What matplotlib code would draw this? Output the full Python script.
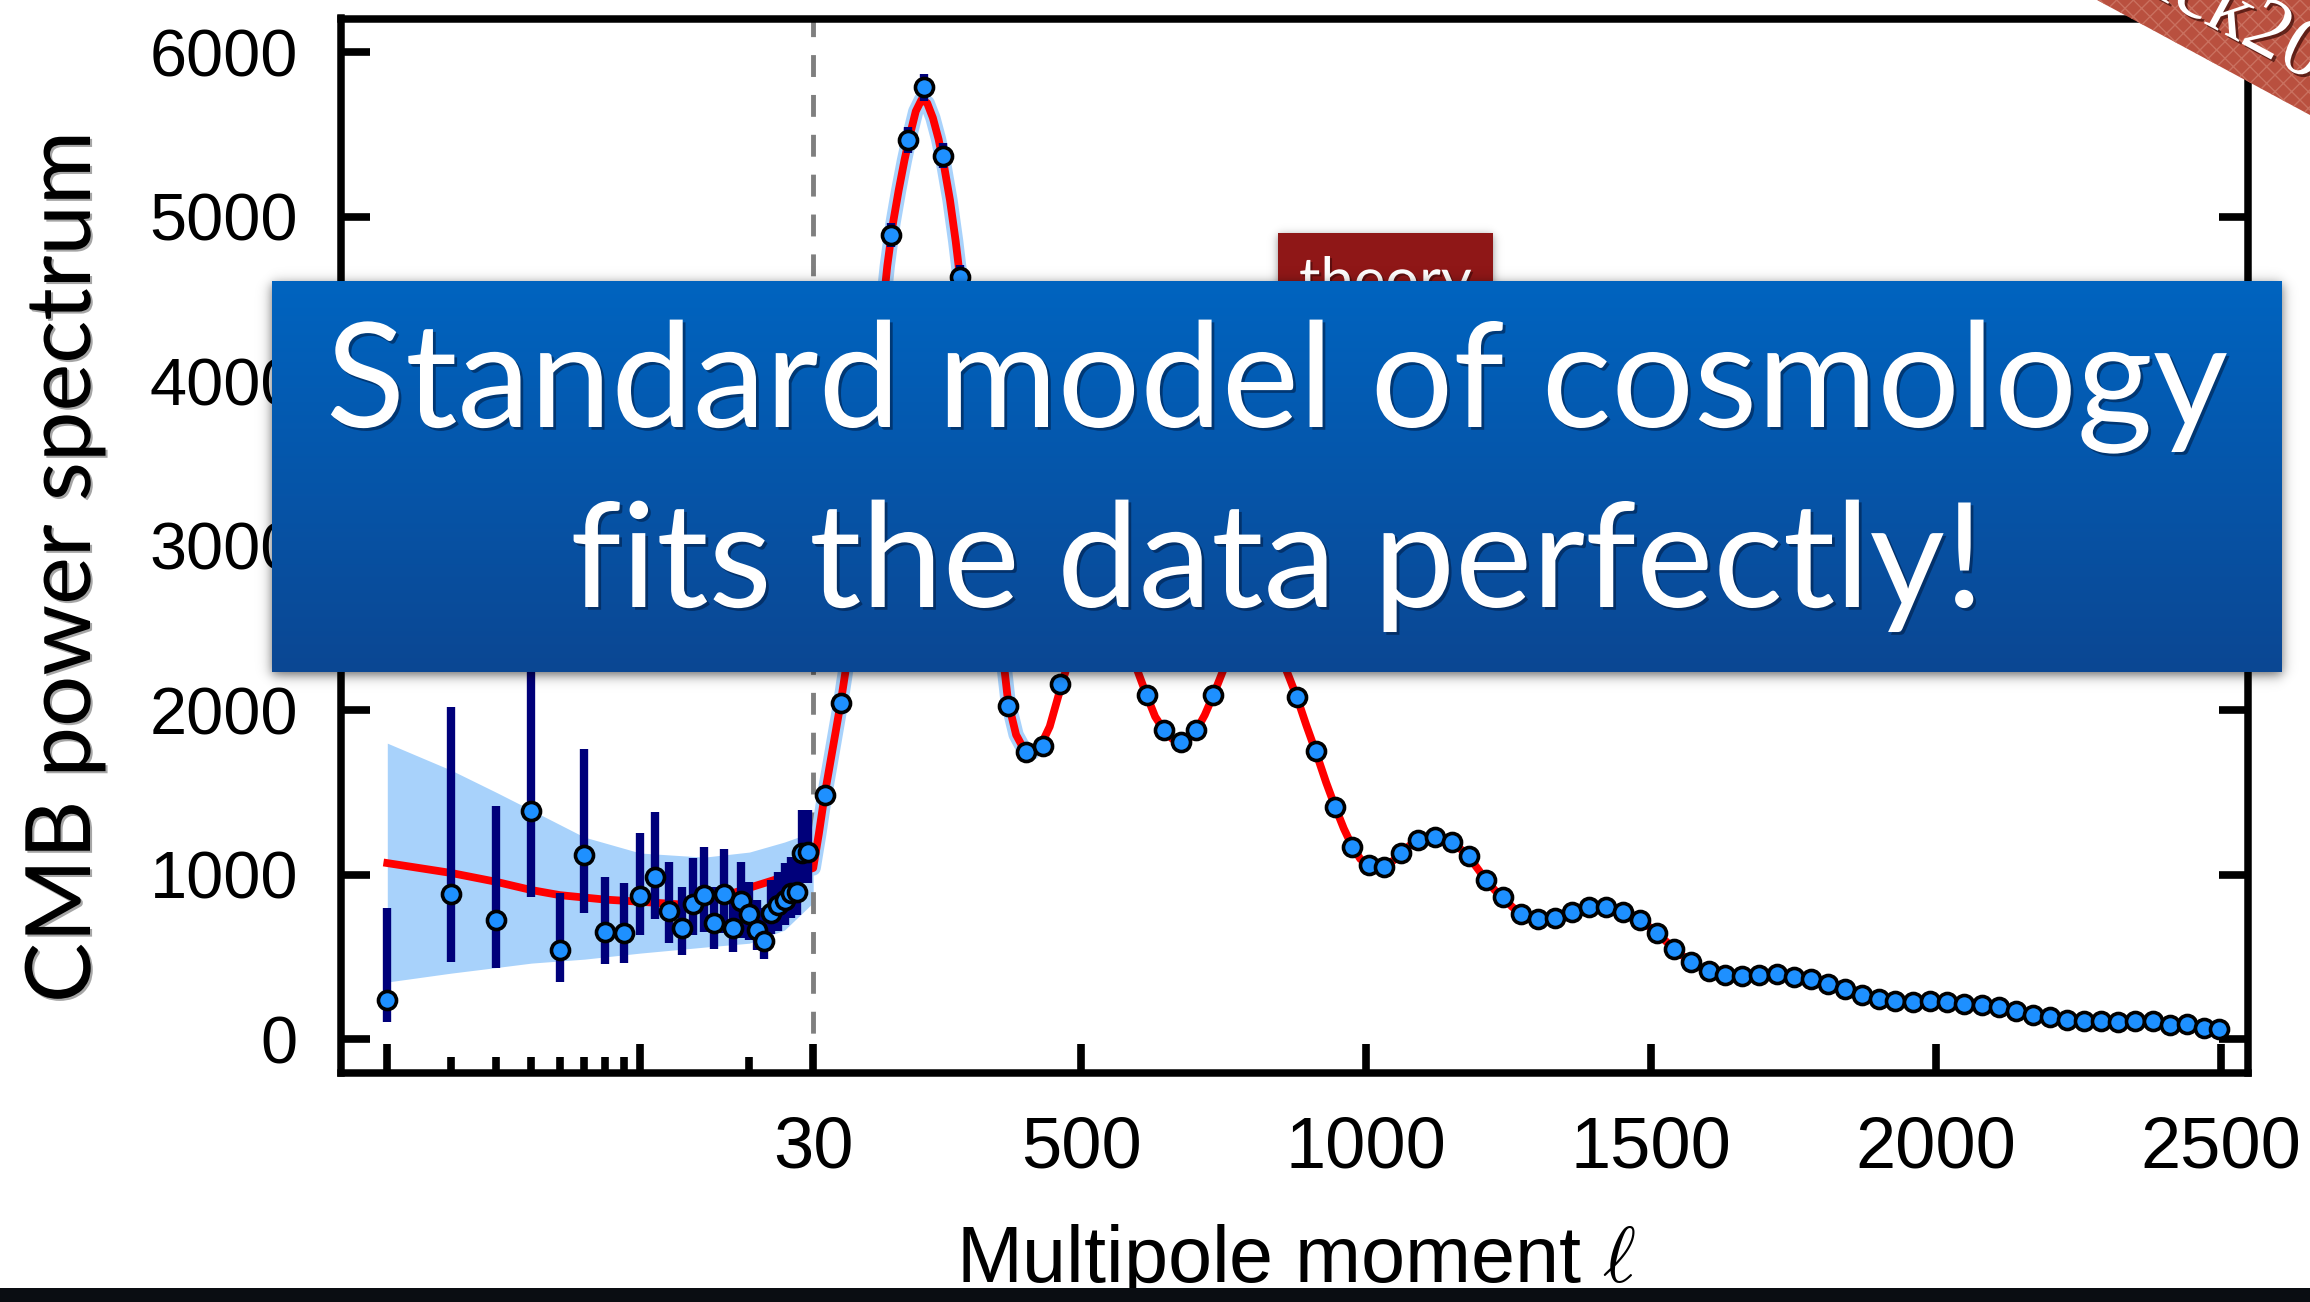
import numpy as np
import matplotlib
matplotlib.use("Agg")
import matplotlib.pyplot as plt
from matplotlib.patches import Rectangle, Polygon
import matplotlib.patheffects as pe

plt.rcParams['font.family'] = ['Liberation Sans', 'DejaVu Sans']
plt.rcParams['mathtext.fontset'] = 'cm'
plt.rcParams['hatch.linewidth'] = 1.0

# ---- low multipoles (unbinned), l = 2..29 ----
ell_low = [2, 3, 4, 5, 6, 7, 8, 9, 10, 11, 12, 13, 14, 15, 16, 17, 18, 19,
           20, 21, 22, 23, 24, 25, 26, 27, 28, 29]
dl_low = [237, 881, 723, 1388, 541, 1118, 652, 646, 869, 983, 780, 673, 821,
          875, 703, 881, 673, 839, 760, 663, 598, 764, 815, 845, 886, 892,
          1133, 1135]
dl_low_top = [796, 2020, 1418, 2950, 887, 1763, 987, 950, 1254, 1382, 1074,
              924, 1100, 1167, 926, 1153, 887, 1078, 957, 845, 796, 967, 1017,
              1070, 1108, 1130, 1392, 1392]
dl_low_bottom = [105, 470, 431, 865, 348, 766, 456, 464, 632, 728, 582, 511,
                 632, 652, 545, 644, 531, 612, 602, 541, 484, 640, 660, 693,
                 735, 754, 948, 948]

# cosmic-variance band at low multipoles
band_ell = [2, 3, 4, 5, 7, 10, 15, 20, 25, 30]
band_top = [1799, 1635, 1500, 1392, 1228, 1131, 1106, 1137, 1198, 1260]
band_bottom = [347, 401, 435, 462, 486, 523, 559, 583, 663, 830]

# ---- high multipoles (binned) ----
ell_high = [50, 78, 108, 138, 167, 196, 225, 257, 287, 315,
            344, 372, 403, 433, 463, 494, 524, 554, 584, 615,
            645, 675, 702, 732, 762, 791, 821, 850, 879, 912,
            946, 976, 1005, 1031, 1061, 1091, 1121, 1151, 1180, 1211,
            1241, 1272, 1301, 1331, 1361, 1391, 1421, 1451, 1481, 1511,
            1541, 1571, 1601, 1630, 1660, 1690, 1721, 1751, 1780, 1811,
            1841, 1871, 1900, 1929, 1960, 1990, 2020, 2050, 2080, 2110,
            2140, 2170, 2200, 2230, 2260, 2290, 2320, 2350, 2380, 2410,
            2440, 2470, 2496]
dl_high = [1483, 2041, 2950, 3950, 4888, 5465, 5785, 5370, 4634, 3800,
           2900, 2026, 1743, 1781, 2156, 2420, 2530, 2510, 2380, 2091,
           1878, 1807, 1878, 2091, 2350, 2500, 2520, 2330, 2077, 1749,
           1412, 1169, 1058, 1044, 1129, 1210, 1226, 1199, 1112, 967,
           861, 758, 728, 734, 770, 801, 804, 770, 723, 643,
           547, 470, 413, 389, 385, 389, 395, 375, 365, 334,
           302, 267, 243, 233, 227, 231, 223, 213, 207, 193,
           170, 146, 132, 116, 109, 109, 105, 109, 109, 85,
           91, 69, 61]
err_high = [45, 50, 60, 70, 75, 80, 80, 75, 70, 65,
            55, 50, 45, 45, 45, 45, 45, 45, 40, 40,
            40, 35, 35, 35, 35, 35, 35, 30, 30, 30,
            28, 28, 25, 25, 25, 25, 25, 25, 25, 22,
            22, 22, 20, 20, 20, 20, 20, 20, 20, 20,
            18, 18, 18, 18, 18, 18, 18, 18, 18, 16,
            16, 16, 16, 16, 16, 16, 16, 16, 16, 16,
            15, 15, 15, 15, 15, 15, 15, 15, 15, 15,
            15, 15, 15]

# ---- best-fit model spectrum ----
theory_ell = [2, 3, 4, 5, 6, 8, 10, 13, 16, 20,
              24, 27, 30, 40, 50, 60, 70, 78, 86, 100,
              115, 130, 145, 160, 170, 180, 190, 200, 210, 220,
              230, 240, 250, 260, 270, 280, 290, 300, 315, 330,
              345, 358, 372, 386, 400, 415, 430, 445, 463, 480,
              494, 510, 524, 540, 554, 570, 584, 600, 615, 630,
              645, 660, 675, 690, 702, 717, 732, 748, 762, 777,
              791, 806, 821, 836, 850, 865, 879, 895, 912, 930,
              946, 961, 976, 990, 1005, 1018, 1031, 1046, 1061, 1076,
              1091, 1106, 1121, 1136, 1151, 1166, 1180, 1195, 1211, 1226,
              1241, 1256, 1272, 1287, 1301, 1316, 1331, 1346, 1361, 1376,
              1391, 1406, 1421, 1436, 1451, 1466, 1481, 1496, 1511, 1526,
              1541, 1556, 1571, 1586, 1601, 1616, 1630, 1660, 1690, 1721,
              1751, 1780, 1811, 1841, 1871, 1900, 1929, 1960, 1990, 2020,
              2050, 2080, 2110, 2140, 2170, 2200, 2230, 2260, 2290, 2320,
              2350, 2380, 2410, 2440, 2470, 2500]
theory_dl = [1070, 1010, 956, 906, 875, 848, 835, 818, 850, 920,
             975, 1010, 1040, 1250, 1483, 1680, 1880, 2040, 2220, 2600,
             3100, 3650, 4200, 4700, 4960, 5160, 5340, 5500, 5640, 5710,
             5690, 5600, 5470, 5300, 5100, 4850, 4560, 4220, 3800, 3350,
             2900, 2480, 2050, 1850, 1760, 1745, 1790, 1900, 2120, 2320,
             2420, 2490, 2525, 2535, 2510, 2450, 2370, 2230, 2090, 1960,
             1880, 1825, 1805, 1830, 1875, 1970, 2090, 2230, 2350, 2440,
             2500, 2530, 2515, 2440, 2330, 2200, 2075, 1910, 1745, 1560,
             1410, 1280, 1170, 1095, 1055, 1040, 1050, 1080, 1125, 1175,
             1210, 1225, 1225, 1215, 1195, 1155, 1110, 1040, 965, 905,
             860, 805, 760, 735, 726, 728, 738, 755, 772, 790,
             800, 805, 803, 790, 770, 748, 722, 685, 643, 595,
             548, 505, 470, 438, 413, 398, 390, 386, 389, 392,
             378, 362, 335, 302, 270, 245, 232, 227, 228, 222,
             212, 204, 192, 172, 150, 133, 118, 110, 107, 105,
             104, 100, 90, 82, 72, 62]

x_major = [2, 10, 30, 500, 1000, 1500, 2000, 2500]
x_major_labels = ['', '', '30', '500', '1000', '1500', '2000', '2500']
x_minor = [3, 4, 5, 6, 7, 8, 9, 20]
y_ticks = [0, 1000, 2000, 3000, 4000, 5000, 6000]

W, H = 2310, 1302
fig = plt.figure(figsize=(W / 100, H / 100), dpi=100)
fig.patch.set_facecolor('white')


def fx(px):
    return px / W


def fy(py):
    return 1 - py / H


ax = fig.add_axes([fx(341), fy(1072.5), (2248 - 341) / W, (1072.5 - 18.5) / H])

# hybrid axis: logarithmic below l = 30, linear above
SPLIT = 30.0
DECADE = 635.4


def fwd(x):
    x = np.asarray(x, dtype=float)
    safe = np.where(x > 0, x, 1e-300)
    lg = SPLIT + DECADE * np.log10(safe / SPLIT)
    return np.where(x < SPLIT, lg, x)


def inv(t):
    t = np.asarray(t, dtype=float)
    ex = SPLIT * 10 ** ((np.minimum(t, SPLIT) - SPLIT) / DECADE)
    return np.where(t < SPLIT, ex, t)


ax.set_xscale('function', functions=(fwd, inv))
ax.set_xlim(1.49, 2547.5)
ax.set_ylim(-203, 6204)

navy = '#00007a'
band_color = '#a8d2fb'

ax.fill_between(band_ell, band_bottom, band_top, color=band_color, lw=0, zorder=1)
ax.axvline(30, color='#7f7f7f', lw=3.5, linestyle=(0, (4.5, 3.7)), zorder=1.5)

t_ell = np.array(theory_ell, dtype=float)
t_dl = np.array(theory_dl, dtype=float)
halo = (t_ell >= 30) & (t_ell <= 420)
ax.plot(t_ell[halo], t_dl[halo], color=band_color, lw=11, solid_capstyle='round', zorder=1.8)
ax.plot(t_ell, t_dl, color='#ff0000', lw=5.6, solid_joinstyle='round', zorder=2)

h_dl = np.array(dl_high, dtype=float)
h_err = np.array(err_high, dtype=float)
ax.vlines(ell_low, dl_low_bottom, dl_low_top, color=navy, lw=6, zorder=3)
ax.vlines(ell_high, h_dl - h_err, h_dl + h_err, color=navy, lw=6, zorder=3)

mk = dict(linestyle='none', marker='o', ms=13, mfc='#1e90ff', mec='black', mew=2.6, zorder=4)
ax.plot(ell_low, dl_low, **mk)
ax.plot(ell_high, dl_high, **mk)

ax.set_xticks(x_major)
ax.set_xticklabels(x_major_labels)
ax.set_xticks(x_minor, minor=True)
ax.set_xticklabels([''] * len(x_minor), minor=True)
ax.set_yticks(y_ticks)
ax.set_yticklabels([str(v) for v in y_ticks])

for s in ax.spines.values():
    s.set_linewidth(5.4)
ax.tick_params(which='both', direction='in', top=False, right=True, width=5.5)
ax.tick_params(which='major', length=21)
ax.tick_params(which='minor', length=11.5)
ax.tick_params(axis='x', labelsize=52, pad=31)
ax.tick_params(axis='y', labelsize=48, pad=31)

ax.set_xlabel(r'Multipole moment $\ell$', fontsize=57)
ax.xaxis.set_label_coords((1296 - 341) / 1907, (1072.5 - 1282) / 1054)
ax.xaxis.label.set_verticalalignment('baseline')

text_shadow = [pe.withSimplePatchShadow(offset=(1.5, -1.5), shadow_rgbFace='black', alpha=0.35)]
ax.set_ylabel('CMB power spectrum', fontsize=65, family=['Lato', 'DejaVu Sans'],
              path_effects=text_shadow)
ax.yaxis.set_label_coords((90 - 341) / 1907, (1072.5 - 567) / 1054)
ax.yaxis.label.set_verticalalignment('baseline')


def soft_shadow(x0, y0, x1, y1, blur, dy, alpha, z):
    pad = int(4 * blur)
    w = int(x1 - x0) + 2 * pad
    h = int(y1 - y0) + 2 * pad
    xs = np.arange(w) + 0.5
    ys = np.arange(h) + 0.5
    px = 0.5 * (np.tanh((xs - pad) / blur) - np.tanh((xs - (w - pad)) / blur))
    py = 0.5 * (np.tanh((ys - pad) / blur) - np.tanh((ys - (h - pad)) / blur))
    img = np.zeros((h, w, 4))
    img[..., 3] = alpha * np.outer(py, px)
    sax = fig.add_axes([fx(x0 - pad), fy(y1 + pad + dy), w / W, h / H], zorder=z)
    sax.imshow(img, aspect='auto', extent=[0, 1, 0, 1], interpolation='bilinear')
    sax.set_axis_off()
    sax.patch.set_visible(False)


# "theory" tag
soft_shadow(1278, 233, 1493, 330, 5, 2, 0.45, 6)
fig.add_artist(Rectangle((fx(1278), fy(330)), (1493 - 1278) / W, (330 - 233) / H,
                         transform=fig.transFigure, facecolor='#8f1717', lw=0, zorder=7))
fig.text(fx(1299), fy(300), 'theory', fontsize=43, color='white', ha='left', va='baseline',
         family=['Lato', 'DejaVu Sans'], zorder=8, path_effects=text_shadow)

# headline banner
bx0, by0, bx1, by1 = 272, 281, 2282, 672
soft_shadow(bx0, by0, bx1, by1, 7, 3, 0.6, 9)
bax = fig.add_axes([fx(bx0), fy(by1), (bx1 - bx0) / W, (by1 - by0) / H], zorder=10)
top_c = np.array([0x00, 0x64, 0xC0]) / 255
bot_c = np.array([0x0B, 0x47, 0x93]) / 255
frac = np.linspace(0, 1, 256)[:, None, None]
grad = top_c[None, None, :] * (1 - frac) + bot_c[None, None, :] * frac
bax.imshow(grad, aspect='auto', extent=[0, 1, 0, 1], interpolation='bilinear')
bax.set_axis_off()

banner_shadow = [pe.withSimplePatchShadow(offset=(2, -2), shadow_rgbFace='#001a40', alpha=0.55)]
fig.text(fx(1277), fy(427), 'Standard model of cosmology', fontsize=105, color='white',
         ha='center', va='baseline', family=['Lato', 'DejaVu Sans'], zorder=12,
         path_effects=banner_shadow)
fig.text(fx(1277), fy(607), 'fits the data perfectly!', fontsize=105, color='white',
         ha='center', va='baseline', family=['Lato', 'DejaVu Sans'], zorder=12,
         path_effects=banner_shadow)

# corner ribbon
fig.add_artist(Polygon([(fx(2097), 1.0), (1.0, 1.0), (1.0, fy(115))], closed=True,
                       transform=fig.transFigure, facecolor='#b9503f', edgecolor='#c9705f',
                       hatch='xx', lw=0, zorder=14))
fig.text(fx(2039), fy(-66), 'Planck2013', fontsize=60, color='white', rotation=-28.4,
         rotation_mode='anchor', ha='left', va='baseline',
         family=['Liberation Serif', 'DejaVu Serif'], zorder=15,
         path_effects=[pe.withSimplePatchShadow(offset=(2, -2), shadow_rgbFace='#3a0a05', alpha=0.7)])

# dark strip along the bottom edge
fig.add_artist(Rectangle((0, 0), 1, 14 / H, transform=fig.transFigure,
                         facecolor='#0a0d12', lw=0, zorder=20))

fig.savefig('out.png', dpi=100)
